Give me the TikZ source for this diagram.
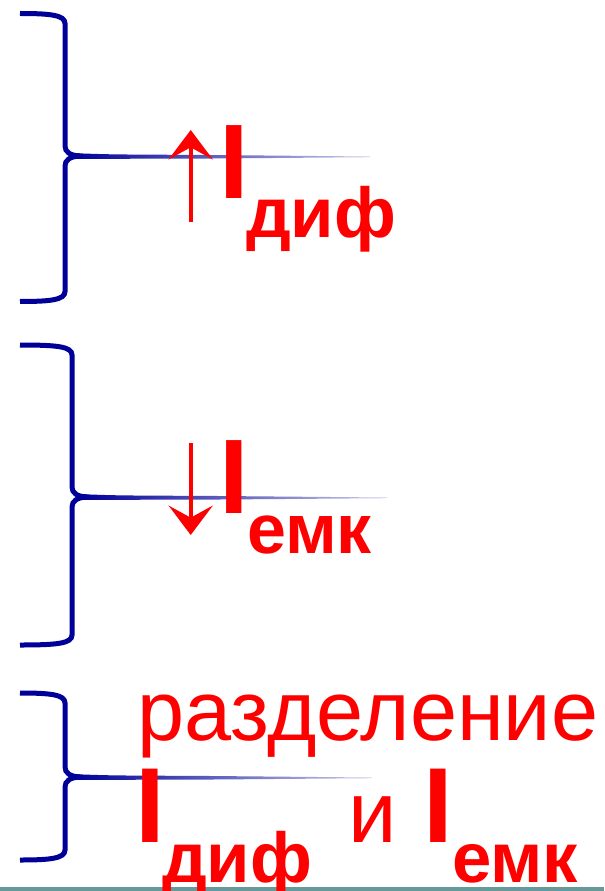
\documentclass[tikz,border=0pt]{standalone}
\usepackage{fontspec}
\setmainfont{Liberation Sans}
\usetikzlibrary{arrows.meta}
\definecolor{bc}{RGB}{0,0,153}
\definecolor{tealline}{RGB}{102,153,153}
\newcommand{\mybrace}[5]{% #1 x of stem, #2 top y, #3 mid y, #4 bottom y, #5 tail end x
  \draw[brace] (20,#2) .. controls ({#1-15},{#2}) and ({#1},{#2+1.5}) .. ({#1},{#2+10})
     -- ({#1},{#3-10}) .. controls ({#1},{#3-4}) and ({#1+5},{#3-0.5}) .. ({#1+15},{#3});
  \draw[brace] ({#1+15},{#3}) .. controls ({#1+5},{#3+0.5}) and ({#1},{#3+4}) .. ({#1},{#3+10})
     -- ({#1},{#4-10}) .. controls ({#1},{#4-1.5}) and ({#1-15},{#4}) .. (20,{#4});
  \shade[left color=bc, right color=bc!20]
     ({#1+10},{#3-2.8}) .. controls ({#1+45},{#3-1.5}) .. ({#1+135},{#3-1.1})
     -- ({#5},{#3+0.5}) -- ({#5},{#3+1.2}) -- ({#1+135},{#3+2.6})
     .. controls ({#1+45},{#3+2.8}) .. ({#1+10},{#3+2.8}) -- cycle;
}
\begin{document}
\begin{tikzpicture}[x=0.75pt,y=-0.75pt,
  brace/.style={draw=bc,line width=3.75pt},
  txt/.style={inner sep=0pt,outer sep=0pt,anchor=base west,text=red},
  arr/.style={draw=red,line width=3pt,-{Stealth[length=22pt,width=33pt,inset=9pt]}}]
\useasboundingbox (0,0) rectangle (604,891);
\fill[white] (0,0) rectangle (604,891);
\fill[tealline] (0,887) rectangle (604,891);

% braces
\mybrace{65}{13.5}{156}{301.5}{370}
\mybrace{72}{345}{497}{645}{387}
\mybrace{65}{693}{777}{860}{372}

% top group
\coordinate (a1s) at (190.7,222);
\coordinate (a1e) at (190.7,130);
\draw[arr] (a1s) -- (a1e);
\node[txt,font=\fontsize{79.5}{80}\selectfont\bfseries] (i1) at (219,199) {I};
\node[txt,font=\fontsize{53}{54}\selectfont\bfseries] (d1) at (246,238) {диф};

% middle group
\coordinate (a2s) at (190.7,443);
\coordinate (a2e) at (190.7,535);
\draw[arr] (a2s) -- (a2e);
\node[txt,font=\fontsize{79.5}{80}\selectfont\bfseries] (i2) at (219,513) {I};
\node[txt,font=\fontsize{52.5}{53}\selectfont\bfseries] (e2) at (247,553) {емк};

% bottom group
\node[txt,font=\fontsize{63.5}{64}\selectfont] (r3) at (137,740) {разделение};
\node[txt,font=\fontsize{80}{81}\selectfont\bfseries] (i3) at (135,842) {I};
\node[txt,font=\fontsize{53}{54}\selectfont\bfseries] (d3) at (162,882) {диф};
\node[txt,font=\fontsize{65}{66}\selectfont] (and3) at (348,842) {и};
\node[txt,font=\fontsize{80}{81}\selectfont\bfseries] (i4) at (423,842) {I};
\node[txt,font=\fontsize{53}{54}\selectfont\bfseries] (e3) at (452,882) {емк};
\end{tikzpicture}
\end{document}
